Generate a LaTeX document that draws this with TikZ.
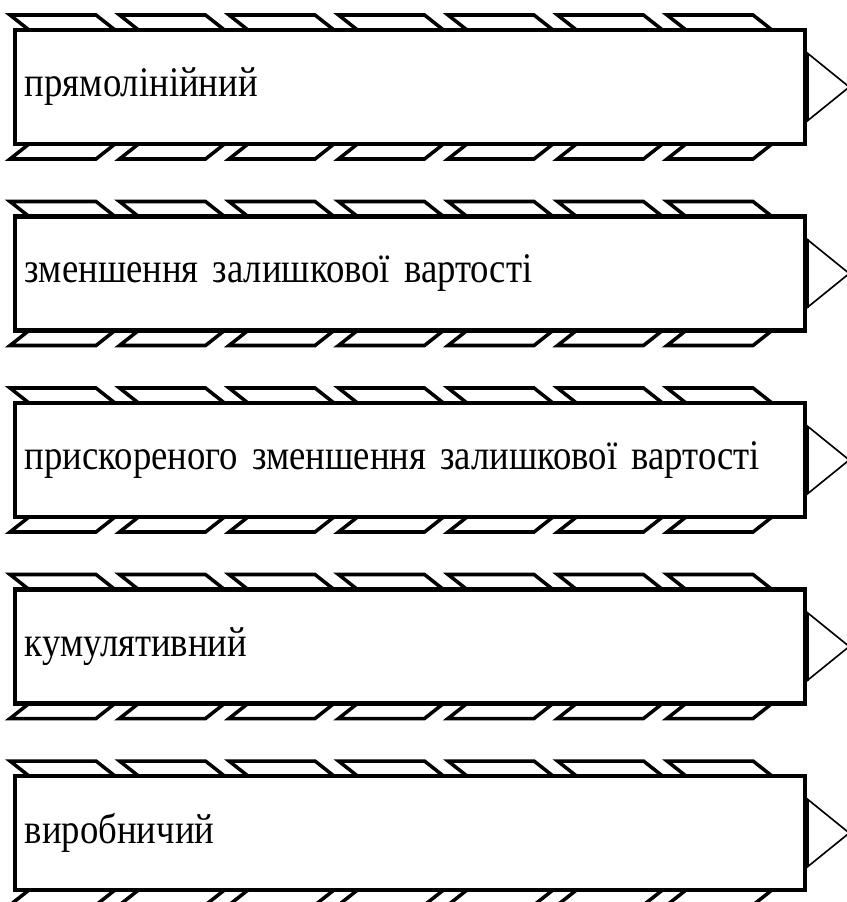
\documentclass[tikz,border=0pt]{standalone}
\usepackage{fontspec}
\setmainfont{Liberation Serif}
\newfontfamily\methodfont[FakeStretch=0.87]{Liberation Serif}
\usepackage{tikz}

\begin{document}
\begin{tikzpicture}[x=0.03cm, y=-0.03cm,
    methodbox/.style={draw, line width=3.8pt, fill=white, minimum width=23.7cm,
      minimum height=3.42cm, inner xsep=0.3cm, text width=23.1cm, align=left,
      font={\methodfont\fontsize{36}{42}\selectfont\spaceskip=0.17em\relax}},
    strip/.style={draw, line width=3pt, fill=white, line join=miter},
    tip/.style={draw, line width=1.4pt, fill=white}]
  \useasboundingbox (0,0) rectangle (847,902);
  % смуги зверху та знизу
  \foreach \i in {0,...,4} {
    \pgfmathsetmacro{\t}{30+186.5*\i}
    \pgfmathsetmacro{\b}{\t+114}
    \foreach \k in {0,...,6} {
      \pgfmathsetmacro{\x}{10+109.5*\k}
      \draw[strip] (\x,\t-15) -- ++(86,0) -- ++(19,15) -- ++(-86,0) -- cycle;
      \draw[strip] (\x,\b+15) -- ++(86,0) -- ++(19,-15) -- ++(-86,0) -- cycle;
    }
  }
  % методи
  \node[methodbox] (m1) at (410,87) {прямолінійний};
  \node[methodbox] (m2) at (410,273.5) {зменшення залишкової вартості};
  \node[methodbox] (m3) at (410,460) {прискореного зменшення залишкової вартості};
  \node[methodbox] (m4) at (410,646.5) {кумулятивний};
  \node[methodbox] (m5) at (410,833) {виробничий};
  % стрілки праворуч
  \foreach \n in {m1,m2,m3,m4,m5} {
    \draw[tip] ([yshift=1.02cm]\n.east) -- ([xshift=1.26cm]\n.east)
      -- ([yshift=-1.02cm]\n.east) -- cycle;
    \draw[line width=2.6pt] ([yshift=1.02cm]\n.east) -- ([yshift=-1.02cm]\n.east);
  }
\end{tikzpicture}
\end{document}
